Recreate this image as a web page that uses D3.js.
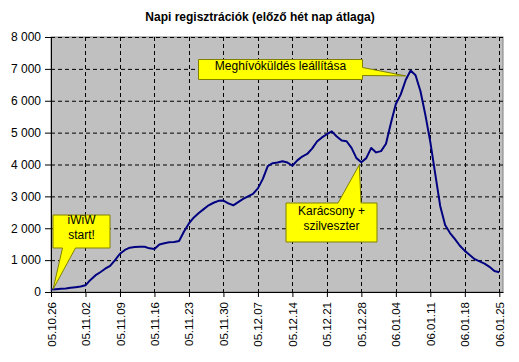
<!DOCTYPE html>
<html>
<head>
<meta charset="utf-8">
<script src="https://cdn.jsdelivr.net/npm/d3@7"></script>
<style>
  body { margin: 0; background: #fff; }
  svg { display: block; font-family: Arial, "Liberation Sans", sans-serif; }
</style>
</head>
<body>
<div id="chart"></div>
<script>
// DATA
const title = 'Napi regisztrációk (előző hét nap átlaga)';
const startDay = '05.10.26';
// daily values (7 day average), one per day from 05.10.26
const dailyValues = [
  80, 90, 100, 110, 130, 150, 170, 210, 380, 520,
  620, 730, 820, 1000, 1200, 1320, 1390, 1410, 1420, 1420,
  1370, 1350, 1490, 1530, 1560, 1570, 1600, 1900, 2150, 2340,
  2480, 2600, 2720, 2800, 2860, 2870, 2780, 2720, 2820, 2920,
  3000, 3080, 3250, 3550, 3950, 4040, 4060, 4100, 4060, 3960,
  4130, 4250, 4330, 4500, 4720, 4850, 4950, 5040, 4880, 4750,
  4730, 4520, 4200, 4070, 4200, 4520, 4380, 4420, 4650, 5300,
  5900, 6200, 6650, 6950, 6800, 6300, 5550, 4700, 3700, 2700,
  2100, 1850, 1660, 1450, 1290, 1160, 1030, 960, 890, 790,
  660, 620
];
const xTickLabels = ['05.10.26','05.11.02','05.11.09','05.11.16','05.11.23','05.11.30',
  '05.12.07','05.12.14','05.12.21','05.12.28','06.01.04','06.01.11','06.01.18','06.01.25'];
const yTicks = [0, 1000, 2000, 3000, 4000, 5000, 6000, 7000, 8000];
// callouts: text lines, box centre (day index, value), tip (day index, value)
const calloutText = [['iWiW', 'start!'], ['Meghívóküldés leállítása'], ['Karácsony +', 'szilveszter']];
const calloutBox = [[6.2, 1920], [46.6, 6990], [56.9, 2210]];
const calloutTip = [[0.45, 85], [72, 6780], [62.6, 3990]];

//// SETUP
const W = 519, H = 362;
const margin = {top: 37, right: 16, bottom: 70, left: 51};
const w = W - margin.left - margin.right;
const h = H - margin.top - margin.bottom;

const parseDay = d3.utcParse('%y.%m.%d');
const fmtY = v => v === 0 ? '0' : d3.format(',')(v).replace(/,/g, ' ');
const t0 = parseDay(startDay);
const dates = dailyValues.map((v, i) => d3.utcDay.offset(t0, i));
const tickDates = xTickLabels.map(parseDay);

const svg = d3.select('#chart').append('svg').attr('width', W).attr('height', H);

svg.append('text')
  .attr('x', 260).attr('y', 21)
  .attr('text-anchor', 'middle')
  .style('font-size', '12px').style('font-weight', 'bold')
  .text(title);

const g = svg.append('g').attr('transform', `translate(${margin.left},${margin.top})`);

// scales
const x = d3.scaleUtc()
  .domain([t0, d3.utcHour.offset(dates[dates.length - 1], 18)])
  .range([0, w]);
const y = d3.scaleLinear().domain([0, 8000]).range([h, 0]);
const xd = i => x(d3.utcHour.offset(t0, i * 24));

// plot area
g.append('rect').attr('width', w).attr('height', h)
  .attr('fill', '#c0c0c0').attr('stroke', '#808080');

// grid
g.append('g').selectAll('line').data(yTicks.slice(1)).enter().append('line')
  .attr('x1', 0).attr('x2', w)
  .attr('y1', d => y(d) + 0.5).attr('y2', d => y(d) + 0.5)
  .attr('stroke', '#000').attr('stroke-dasharray', '4,3');
g.append('g').selectAll('line').data(tickDates.slice(1)).enter().append('line')
  .attr('x1', d => Math.round(x(d)) + 0.5).attr('x2', d => Math.round(x(d)) + 0.5)
  .attr('y1', 0).attr('y2', h)
  .attr('stroke', '#000').attr('stroke-dasharray', '4,3');

// axes
const yAxis = g.append('g')
  .call(d3.axisLeft(y).tickValues(yTicks).tickFormat(fmtY).tickSize(6).tickPadding(4));
yAxis.selectAll('text').style('font-size', '12px').attr('fill', '#000');
yAxis.select('.domain').attr('stroke', '#000');

const xAxis = g.append('g').attr('transform', `translate(0,${h})`)
  .call(d3.axisBottom(x).tickValues(tickDates).tickFormat(d3.utcFormat('%y.%m.%d')).tickSize(5).tickSizeOuter(0));
xAxis.select('.domain').attr('stroke', '#000');
xAxis.selectAll('text')
  .style('font-size', '11.5px').attr('fill', '#000')
  .attr('text-anchor', 'end')
  .attr('transform', 'rotate(-90)')
  .attr('x', -10).attr('y', 0).attr('dy', '0.35em');

// line
const line = d3.line().x((d, i) => x(dates[i])).y(d => y(d));
g.append('path').datum(dailyValues)
  .attr('d', line)
  .attr('fill', 'none').attr('stroke', '#000080').attr('stroke-width', 2)
  .attr('stroke-linejoin', 'round');

// callouts
const boxSize = [[57, 33], [164, 20], [91, 39]];
const pointerSide = ['bottom', 'right', 'top'];
const pointerBase = [[-19, -6], [-2, 6], [6.5, 29.5]];

function calloutPath(cx, cy, bw, bh, side, base, tip) {
  const l = cx - bw / 2, r = cx + bw / 2, t = cy - bh / 2, b = cy + bh / 2;
  const p = [[l, t]];
  if (side === 'top') p.push([cx + base[0], t], tip, [cx + base[1], t]);
  p.push([r, t]);
  if (side === 'right') p.push([r, cy + base[0]], tip, [r, cy + base[1]]);
  p.push([r, b]);
  if (side === 'bottom') p.push([cx + base[1], b], tip, [cx + base[0], b]);
  p.push([l, b]);
  return 'M' + p.map(q => q.join(',')).join('L') + 'Z';
}

calloutText.forEach(function(lines, i) {
  const cx = Math.round(xd(calloutBox[i][0])) + 0.5;
  const cy = Math.round(y(calloutBox[i][1])) + 0.5;
  const tip = [xd(calloutTip[i][0]), y(calloutTip[i][1])];
  const grp = g.append('g');
  grp.append('path')
    .attr('d', calloutPath(cx, cy, boxSize[i][0], boxSize[i][1], pointerSide[i], pointerBase[i], tip))
    .attr('fill', '#ffff00').attr('stroke', '#808000').attr('stroke-width', 1);
  grp.append('text')
    .attr('x', cx).attr('y', cy - (lines.length - 1) * 7.5)
    .attr('text-anchor', 'middle').attr('dy', '0.35em')
    .style('font-size', '12px')
    .selectAll('tspan').data(lines).enter().append('tspan')
    .attr('x', cx).attr('dy', (d, j) => j === 0 ? 0 : 15)
    .text(d => d);
});
</script>
</body>
</html>
